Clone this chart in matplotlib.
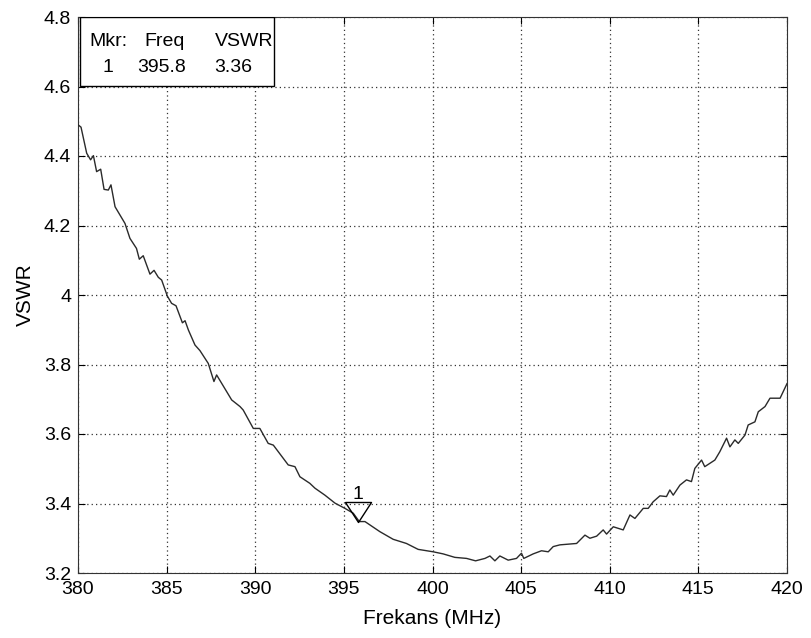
import matplotlib
matplotlib.use("Agg")
import matplotlib.pyplot as plt
from matplotlib.patches import Rectangle

plt.rcParams['font.family'] = ['Liberation Sans', 'DejaVu Sans']

freq_mhz = [380.0, 380.17, 380.49, 380.71, 380.87, 381.05, 381.28, 381.47, 381.71, 381.86,
            382.09, 382.65, 382.93, 383.3, 383.46, 383.68, 384.06, 384.29, 384.53, 384.72,
            385.04, 385.28, 385.53, 385.89, 386.04, 386.23, 386.6, 386.88, 387.35, 387.67,
            387.82, 388.67, 389.14, 389.32, 389.89, 390.26, 390.73, 391.02, 391.86, 392.24,
            392.52, 393.08, 393.37, 393.93, 394.5, 395.06, 395.53, 395.87, 396.19, 397.03,
            397.78, 398.53, 399.19, 400.04, 400.6, 401.26, 401.92, 402.43, 402.96, 403.24,
            403.52, 403.8, 404.27, 404.74, 405.02, 405.15, 405.68, 406.15, 406.53, 406.81,
            407.19, 408.13, 408.6, 408.88, 409.26, 409.63, 409.82, 410.2, 410.76, 411.14,
            411.42, 411.89, 412.17, 412.45, 412.83, 413.2, 413.39, 413.58, 413.96, 414.33,
            414.61, 414.8, 415.18, 415.36, 415.93, 416.21, 416.59, 416.78, 417.06, 417.25,
            417.63, 417.81, 418.19, 418.38, 418.76, 419.04, 419.61, 420.0]
vswr = [4.49, 4.483, 4.408, 4.389, 4.401, 4.355, 4.362, 4.304, 4.302, 4.317,
        4.254, 4.206, 4.163, 4.134, 4.103, 4.113, 4.060, 4.071, 4.051, 4.043,
        3.997, 3.976, 3.969, 3.920, 3.926, 3.899, 3.856, 3.840, 3.803, 3.751,
        3.770, 3.698, 3.679, 3.669, 3.616, 3.616, 3.573, 3.568, 3.511, 3.506,
        3.477, 3.458, 3.444, 3.424, 3.401, 3.386, 3.372, 3.348, 3.348, 3.319,
        3.297, 3.285, 3.268, 3.261, 3.255, 3.245, 3.242, 3.235, 3.242, 3.249,
        3.235, 3.249, 3.237, 3.242, 3.257, 3.242, 3.255, 3.264, 3.261, 3.276,
        3.281, 3.285, 3.309, 3.300, 3.306, 3.324, 3.312, 3.333, 3.324, 3.367,
        3.357, 3.386, 3.386, 3.405, 3.422, 3.420, 3.439, 3.424, 3.453, 3.468,
        3.463, 3.501, 3.525, 3.506, 3.525, 3.549, 3.588, 3.563, 3.583, 3.573,
        3.597, 3.626, 3.635, 3.664, 3.679, 3.703, 3.703, 3.745]

marker_id = "1"
marker_freq = 395.8
marker_vswr = 3.36

x_ticks = [380, 385, 390, 395, 400, 405, 410, 415, 420]
y_ticks = [3.2, 3.4, 3.6, 3.8, 4.0, 4.2, 4.4, 4.6, 4.8]
y_tick_labels = ["3.2", "3.4", "3.6", "3.8", "4", "4.2", "4.4", "4.6", "4.8"]

fig = plt.figure(figsize=(8.12, 6.38), dpi=100)
ax = fig.add_axes([78/812, 65/638, 709/812, 556/638])

ax.plot(freq_mhz, vswr, color='#2a2a2a', linewidth=1.0, zorder=3)

# marker triangle with apex on the point
tri = [(-0.65, 1.0), (0.65, 1.0), (0.0, 0.0), (-0.65, 1.0)]
ax.plot([marker_freq], [marker_vswr - 0.012], marker=tri, markersize=28.8,
        markerfacecolor='none', markeredgecolor='black', markeredgewidth=1.0,
        linestyle='none', zorder=4)
ax.annotate(marker_id, xy=(marker_freq, marker_vswr - 0.012), xytext=(0, 16.5),
            textcoords='offset points', ha='center', va='baseline', fontsize=14)

ax.set_xlim(380, 420)
ax.set_ylim(3.2, 4.8)
ax.set_xticks(x_ticks)
ax.set_xticklabels([str(t) for t in x_ticks])
ax.set_yticks(y_ticks)
ax.set_yticklabels(y_tick_labels)
ax.tick_params(direction='in', length=5, width=0.8, labelsize=14, top=True, right=True)
ax.tick_params(axis='x', pad=6)
ax.tick_params(axis='y', pad=5)
ax.grid(True, linestyle=(0, (1, 2.5)), color='#333333', linewidth=0.9)
for s in ax.spines.values():
    s.set_linewidth(0.8)
    s.set_color('#333333')

ax.set_xlabel("Frekans (MHz)", fontsize=15, labelpad=8)
ax.set_ylabel("VSWR", fontsize=15, labelpad=6)

# marker readout box
ax.add_patch(Rectangle((0.003, 0.876), 0.274, 0.124, transform=ax.transAxes,
                       facecolor='white', edgecolor='black', linewidth=1.0, zorder=5))
kw = dict(transform=ax.transAxes, fontsize=14, va='center', zorder=6)
ax.text(0.016, 0.956, "Mkr:", ha='left', **kw)
ax.text(0.0935, 0.956, "Freq", ha='left', **kw)
ax.text(0.193, 0.956, "VSWR", ha='left', **kw)
ax.text(0.0418, 0.909, marker_id, ha='center', **kw)
ax.text(0.0842, 0.909, f"{marker_freq:.1f}", ha='left', **kw)
ax.text(0.192, 0.909, f"{marker_vswr:.2f}", ha='left', **kw)

fig.savefig("out.png", dpi=100)
